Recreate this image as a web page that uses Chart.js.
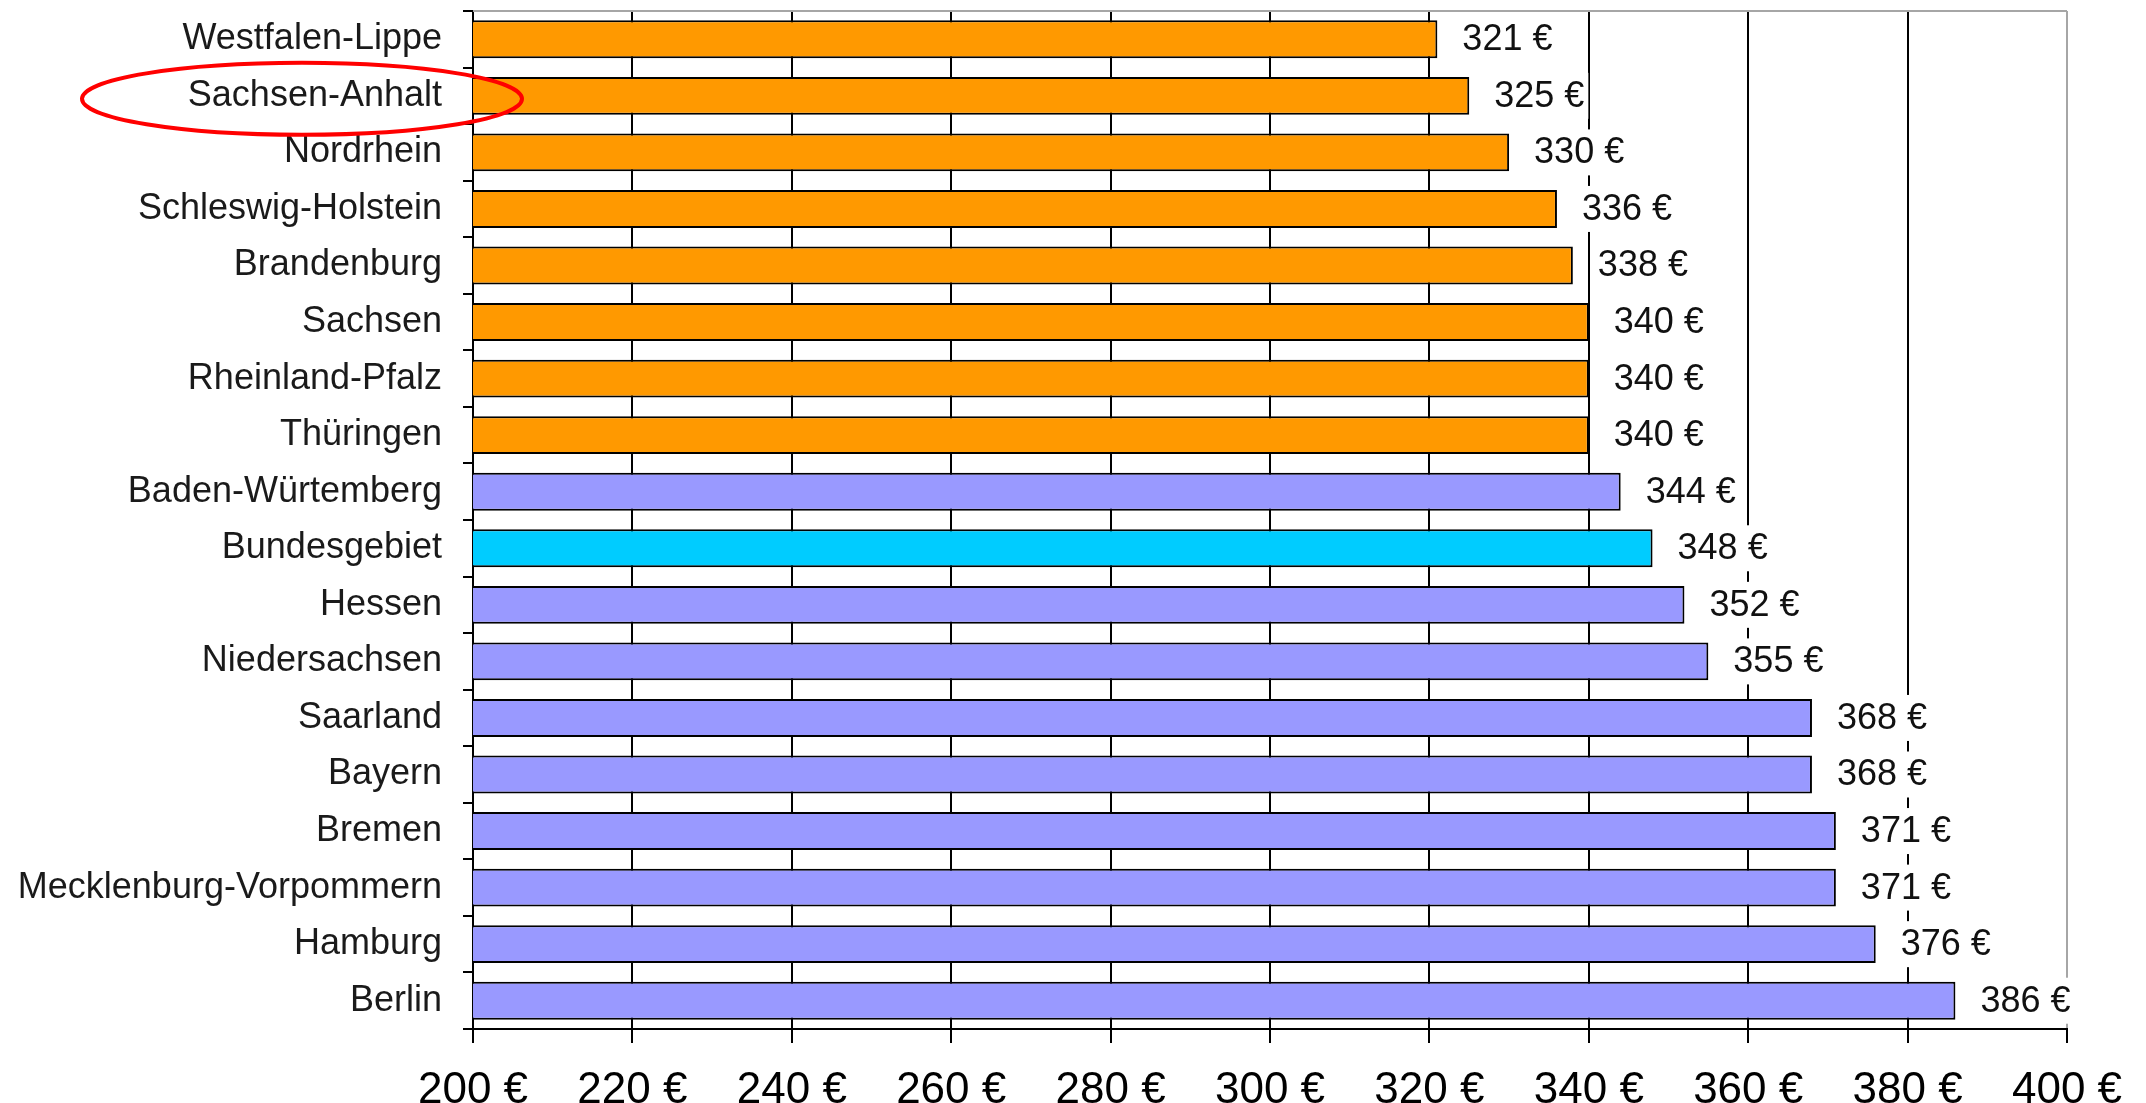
<!DOCTYPE html>
<html>
<head>
<meta charset="utf-8">
<script src="https://cdn.jsdelivr.net/npm/chart.js@4.4.1/dist/chart.umd.min.js"></script>
<style>
  body { margin: 0; background: #fff; }
  #wrap { width: 2146px; height: 1103px; position: relative; }
</style>
</head>
<body>
<div id="wrap"><canvas id="grafico"></canvas></div>
<script>
const regiones = [
  'Westfalen-Lippe', 'Sachsen-Anhalt', 'Nordrhein', 'Schleswig-Holstein', 'Brandenburg',
  'Sachsen', 'Rheinland-Pfalz', 'Thüringen', 'Baden-Würtemberg', 'Bundesgebiet',
  'Hessen', 'Niedersachsen', 'Saarland', 'Bayern', 'Bremen',
  'Mecklenburg-Vorpommern', 'Hamburg', 'Berlin'
];
const betraege = [321, 325, 330, 336, 338, 340, 340, 340, 344, 348, 352, 355, 368, 368, 371, 371, 376, 386];
const gruppen = ['ost', 'ost', 'ost', 'ost', 'ost', 'ost', 'ost', 'ost', 'west', 'bund',
  'west', 'west', 'west', 'west', 'west', 'west', 'west', 'west'];
const xTicks = [200, 220, 240, 260, 280, 300, 320, 340, 360, 380, 400];
const markiert = 'Sachsen-Anhalt';

const FARBEN = { ost: '#ff9900', west: '#9999ff', bund: '#00ccff' };
const FONT = "'Liberation Sans', Arial, sans-serif";

const euro = v => `${v} €`;

// white-boxed value labels to the right of each bar
const wertLabels = {
  id: 'wertLabels',
  afterDatasetsDraw(chart) {
    const { ctx } = chart;
    const meta = chart.getDatasetMeta(0);
    ctx.save();
    ctx.font = `36px ${FONT}`;
    ctx.textBaseline = 'middle';
    meta.data.forEach((bar, i) => {
      const txt = euro(betraege[i]);
      const w = ctx.measureText(txt).width;
      const x = bar.x + 25;
      ctx.fillStyle = '#fff';
      ctx.fillRect(x - 4, bar.y - 23, w + 8, 46);
      ctx.fillStyle = '#111';
      ctx.fillText(txt, x, bar.y + 1);
    });
    ctx.restore();
  }
};

// grey frame on top, red ellipse round the highlighted label
const rahmen = {
  id: 'rahmen',
  afterDraw(chart) {
    const { ctx, chartArea } = chart;
    const yScale = chart.scales.y;
    ctx.save();
    ctx.strokeStyle = '#a6a6a6';
    ctx.lineWidth = 2;
    ctx.beginPath();
    ctx.moveTo(chartArea.left, chartArea.top);
    ctx.lineTo(chartArea.right, chartArea.top);
    ctx.stroke();

    const idx = regiones.indexOf(markiert);
    const cy = yScale.getPixelForValue(idx) + 3;
    const cx = chartArea.left - 171;
    ctx.strokeStyle = '#ff0000';
    ctx.lineWidth = 4;
    ctx.beginPath();
    ctx.ellipse(cx, cy, 220, 36, 0, 0, Math.PI * 2);
    ctx.stroke();
    ctx.restore();
  }
};

new Chart(document.getElementById('grafico').getContext('2d'), {
  type: 'bar',
  data: {
    labels: regiones,
    datasets: [{
      data: betraege,
      backgroundColor: gruppen.map(g => FARBEN[g]),
      borderColor: '#000',
      borderWidth: 2,
      borderSkipped: false,
      barPercentage: 0.67,
      categoryPercentage: 1
    }]
  },
  options: {
    indexAxis: 'y',
    responsive: true,
    maintainAspectRatio: false,
    animation: false,
    layout: { padding: { top: 11, right: 79, left: 0, bottom: 0 } },
    plugins: {
      legend: { display: false },
      tooltip: { enabled: false }
    },
    scales: {
      x: {
        min: 200,
        max: 400,
        afterBuildTicks: (scale) => { scale.ticks = xTicks.map(v => ({ value: v })); },
        grid: {
          color: (c) => (c.tick && c.tick.value === 400 ? '#a6a6a6' : '#000'),
          tickColor: '#000',
          lineWidth: 2,
          tickLength: 14
        },
        border: { color: '#000', width: 2 },
        ticks: {
          callback: (v) => euro(v),
          color: '#000',
          font: { family: FONT, size: 44 },
          padding: 21,
          maxRotation: 0
        },
        afterFit: (scale) => { scale.height = 74; }
      },
      y: {
        grid: {
          offset: true,
          drawOnChartArea: false,
          color: '#000',
          lineWidth: 2,
          tickLength: 10
        },
        border: { color: '#000', width: 2 },
        ticks: {
          color: '#1a1a1a',
          font: { family: FONT, size: 36 },
          padding: 21
        },
        afterFit: (scale) => {
          scale.width = 473;
          scale.paddingTop = 0;
          scale.paddingBottom = 0;
        }
      }
    }
  },
  plugins: [wertLabels, rahmen]
});
</script>
</body>
</html>
